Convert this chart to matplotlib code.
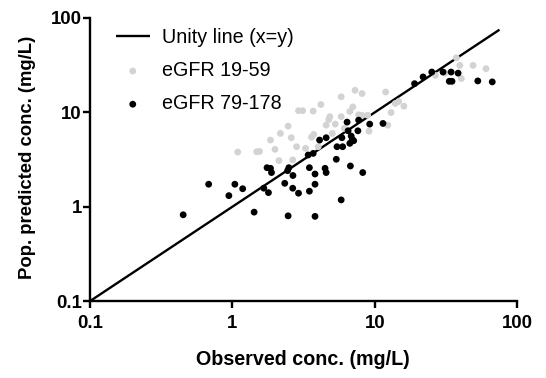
import matplotlib
matplotlib.use("Agg")
import matplotlib.pyplot as plt
from matplotlib.ticker import FixedLocator, FixedFormatter, NullLocator

plt.rcParams['font.family'] = ['Liberation Sans', 'DejaVu Sans']

unity_x = [0.1, 75]
unity_y = [0.1, 75]

grey_x = [1.09, 1.48, 1.55, 1.85, 1.99, 2.17, 2.12, 2.46, 2.59, 2.65, 2.82, 2.91, 3.11,
          3.26, 3.59, 3.69, 3.72, 4.0, 4.18, 4.55, 4.75, 4.83, 5.03, 5.27, 5.80, 5.80,
          6.1, 6.67, 7.0, 7.26, 7.69, 8.13, 8.1, 9.1, 8.9, 11.9, 12.3, 13.0, 13.9, 14.7,
          16.0, 26.6, 37.3, 39.5, 40.5, 48.9, 60.3, 31.1]
grey_y = [3.79, 3.82, 3.85, 5.08, 4.05, 5.97, 3.08, 7.14, 5.38, 3.13, 4.32, 10.4, 10.4,
          4.15, 5.45, 10.3, 5.83, 4.32, 12.1, 7.31, 8.39, 9.0, 5.97, 7.5, 14.6, 9.0,
          6.75, 10.2, 11.4, 17.1, 9.4, 15.8, 9.3, 6.3, 9.3, 16.4, 7.3, 9.95, 12.4, 13.0,
          11.6, 24.6, 37.8, 31.4, 22.8, 31.4, 29.0, 26.0]

black_x = [0.451, 0.681, 0.944, 1.04, 1.18, 1.42, 1.66, 1.75, 1.85, 1.88, 1.79, 2.49,
           2.44, 2.33, 2.66, 2.46, 2.65, 2.91, 3.40, 3.69, 3.47, 3.47, 3.80, 3.80, 3.80,
           4.09, 4.55, 4.47, 4.55, 5.36, 5.42, 5.80, 5.87, 5.94, 6.38, 6.49, 6.67, 6.73,
           6.82, 6.94, 7.1, 7.69, 7.6, 8.22, 9.2, 11.4, 19.0, 21.8, 25.1, 30.1, 34.3,
           38.4, 33.3, 34.8, 52.8, 66.7]
black_y = [0.821, 1.73, 1.31, 1.73, 1.55, 0.876, 1.57, 2.59, 2.55, 2.30, 1.41, 2.59,
           2.41, 1.77, 2.14, 0.80, 1.57, 1.39, 3.53, 3.67, 2.59, 1.46, 2.22, 1.73, 0.79,
           5.08, 5.38, 2.55, 2.30, 3.18, 4.32, 1.18, 5.38, 4.32, 7.87, 6.37, 4.69, 2.70,
           5.60, 5.16, 5.0, 8.26, 6.37, 2.30, 7.5, 7.62, 20.1, 23.7, 26.7, 26.7, 26.7,
           26.0, 21.3, 21.3, 21.5, 21.0]

ticks = [0.1, 1, 10, 100]
tick_labels = ['0.1', '1', '10', '100']

W, H = 546, 378
fig = plt.figure(figsize=(W / 100, H / 100), dpi=100)
ax = fig.add_axes([90 / W, 1 - 301.1 / H, 427.3 / W, 283.2 / H])

ax.plot(unity_x, unity_y, color='black', lw=1.7, label='Unity line (x=y)', zorder=2,
        solid_capstyle='butt')
ax.scatter(grey_x, grey_y, s=24, color='#d3d3d3', edgecolors='none', label='eGFR 19-59', zorder=3)
ax.scatter(black_x, black_y, s=24, color='black', edgecolors='none', label='eGFR 79-178', zorder=4)

ax.set_xscale('log')
ax.set_yscale('log')
ax.set_xlim(0.1, 100)
ax.set_ylim(0.1, 100)
for axis in (ax.xaxis, ax.yaxis):
    axis.set_major_locator(FixedLocator(ticks))
    axis.set_major_formatter(FixedFormatter(tick_labels))
    axis.set_minor_locator(NullLocator())

for s in ('top', 'right'):
    ax.spines[s].set_visible(False)
for s in ('left', 'bottom'):
    ax.spines[s].set_linewidth(1.7)
ax.tick_params(axis='both', which='major', length=4.8, width=1.7, direction='out',
               labelsize=13.4)
ax.tick_params(axis='x', pad=5)
ax.tick_params(axis='y', pad=1)
for lbl in ax.get_xticklabels() + ax.get_yticklabels():
    lbl.set_fontweight('bold')

ax.set_xlabel('Observed conc. (mg/L)', fontsize=14.2, fontweight='bold')
ax.set_ylabel('Pop. predicted conc. (mg/L)', fontsize=13.3, fontweight='bold')
ax.xaxis.set_label_coords(0.499, -0.172)
ax.yaxis.set_label_coords(-0.126, 0.509)

leg = ax.legend(loc='upper left', frameon=False, fontsize=14.2, handlelength=1.7,
                handletextpad=0.65, labelspacing=0.72, borderpad=0, borderaxespad=0,
                bbox_to_anchor=(116 / W, 1 - 28 / H), bbox_transform=fig.transFigure,
                markerscale=1.0)

fig.savefig('out.png', dpi=100)
